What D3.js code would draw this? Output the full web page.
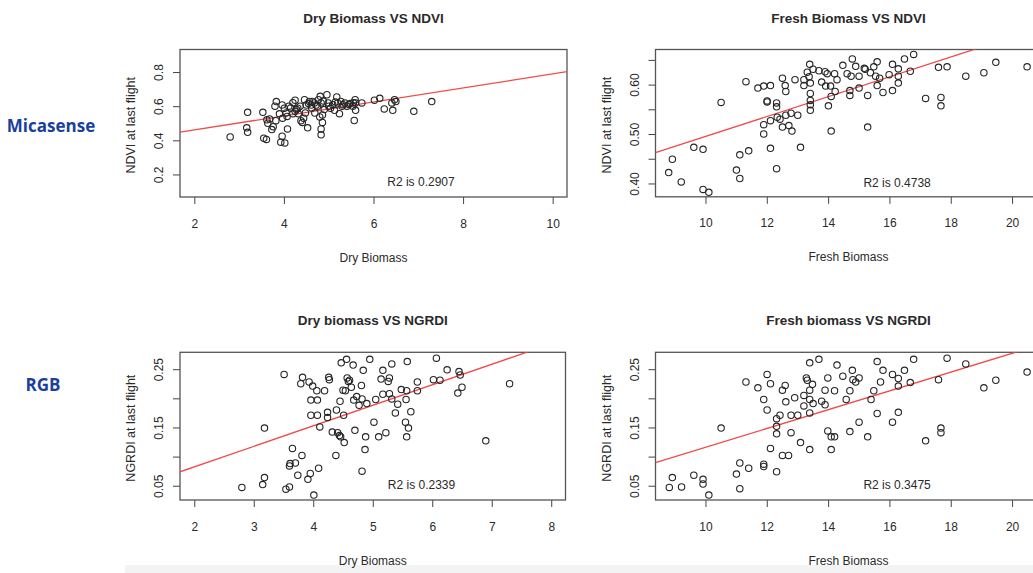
<!DOCTYPE html>
<html>
<head>
<meta charset="utf-8">
<script src="https://cdn.jsdelivr.net/npm/d3@7"></script>
<style>
  html, body { margin: 0; padding: 0; background: #fff; }
  svg { display: block; }
  text { font-family: "Liberation Sans", Arial, Helvetica, sans-serif; fill: #2a2a2a; }
</style>
</head>
<body>
<script>
// ---- Observations: [biomass, vegetation index at last flight] ----
const dryVsNdvi = [
  [2.80,0.420],[3.19,0.564],[3.17,0.473],[3.19,0.447],[3.53,0.564],[3.55,0.412],[3.61,0.405],
  [3.62,0.520],[3.64,0.500],[3.68,0.525],[3.73,0.463],[3.76,0.480],[3.80,0.600],[3.83,0.627],
  [3.82,0.515],[3.93,0.389],[3.96,0.424],[4.02,0.385],[3.96,0.607],[4.01,0.588],[3.97,0.530],
  [4.08,0.467],[4.07,0.540],[4.11,0.600],[4.20,0.620],[4.25,0.635],[4.28,0.580],[4.31,0.588],
  [4.20,0.556],[4.32,0.556],[4.38,0.515],[4.41,0.505],[4.44,0.530],[4.46,0.638],[4.50,0.607],
  [4.53,0.473],[4.57,0.628],[4.61,0.607],[4.64,0.628],[4.68,0.619],[4.72,0.607],[4.69,0.560],
  [4.77,0.638],[4.81,0.658],[4.83,0.619],[4.80,0.537],[4.83,0.467],[4.83,0.432],[4.86,0.505],
  [4.86,0.549],[4.90,0.580],[4.96,0.667],[4.99,0.619],[5.04,0.588],[5.09,0.609],[5.13,0.576],
  [5.18,0.654],[5.20,0.619],[5.24,0.556],[5.27,0.628],[5.32,0.609],[5.36,0.619],[5.41,0.600],
  [5.48,0.615],[5.54,0.600],[5.57,0.516],[5.59,0.638],[5.60,0.619],[5.60,0.576],[5.74,0.619],
  [6.02,0.635],[6.14,0.646],[6.24,0.584],[6.41,0.619],[6.43,0.576],[6.47,0.638],[6.50,0.627],
  [6.90,0.570],[7.30,0.627],
  [4.15,0.590],[4.36,0.600],[4.55,0.615],[4.62,0.590],[4.75,0.600],[4.88,0.630],[5.00,0.600],
  [5.15,0.625],[5.30,0.600],[5.45,0.610],[4.25,0.570],[4.48,0.560],[3.90,0.555],[4.05,0.560],
  [5.55,0.620]
];

const freshVsNdvi = [
  [8.80,0.422],[8.92,0.449],[9.21,0.403],[9.62,0.473],[9.92,0.469],[9.92,0.388],[10.11,0.382],
  [10.51,0.564],[11.01,0.427],[11.12,0.458],[11.12,0.410],[11.32,0.606],[11.41,0.466],[11.71,0.593],
  [11.90,0.597],[12.12,0.598],[11.90,0.519],[11.90,0.500],[12.01,0.567],[12.01,0.565],[12.12,0.527],
  [12.12,0.471],[12.32,0.563],[12.32,0.555],[12.34,0.534],[12.43,0.530],[12.32,0.430],[12.51,0.613],
  [12.60,0.598],[12.62,0.586],[12.51,0.514],[12.62,0.538],[12.72,0.517],[12.79,0.542],[12.82,0.506],
  [12.92,0.610],[13.01,0.538],[13.10,0.473],[13.21,0.610],[13.21,0.598],[13.32,0.625],[13.38,0.616],
  [13.40,0.641],[13.42,0.603],[13.42,0.582],[13.42,0.568],[13.42,0.559],[13.42,0.548],[13.51,0.631],
  [13.70,0.628],[13.79,0.605],[13.90,0.626],[13.97,0.622],[13.92,0.597],[14.01,0.557],[14.10,0.576],
  [14.10,0.506],[14.08,0.597],[14.21,0.622],[14.23,0.586],[14.29,0.610],[14.48,0.639],[14.62,0.622],
  [14.71,0.588],[14.71,0.578],[14.75,0.617],[14.79,0.652],[14.90,0.637],[15.01,0.593],[15.01,0.617],
  [15.18,0.633],[15.21,0.631],[15.29,0.578],[15.29,0.514],[15.38,0.624],[15.49,0.636],[15.55,0.617],
  [15.60,0.646],[15.60,0.598],[15.68,0.613],[15.79,0.584],[15.99,0.620],[16.10,0.641],[16.10,0.588],
  [16.29,0.632],[16.29,0.617],[16.29,0.603],[16.49,0.652],[16.68,0.627],[16.79,0.661],[17.18,0.572],
  [17.60,0.635],[17.68,0.574],[17.68,0.557],[17.88,0.636],[18.49,0.617],[19.08,0.624],[19.47,0.645],
  [20.49,0.636]
];

const dryVsNgrdi = [
  [2.80,0.047],[3.15,0.052],[3.18,0.064],[3.18,0.149],[3.51,0.241],[3.54,0.044],[3.60,0.048],
  [3.60,0.084],[3.61,0.088],[3.65,0.114],[3.70,0.089],[3.74,0.068],[3.79,0.225],[3.81,0.102],
  [3.82,0.236],[3.91,0.061],[3.93,0.228],[3.95,0.071],[3.96,0.197],[3.96,0.171],[3.99,0.221],
  [4.01,0.034],[4.06,0.213],[4.07,0.197],[4.07,0.171],[4.09,0.080],[4.11,0.151],[4.19,0.213],
  [4.24,0.176],[4.24,0.167],[4.26,0.236],[4.27,0.232],[4.32,0.142],[4.38,0.102],[4.39,0.180],
  [4.41,0.141],[4.44,0.136],[4.45,0.195],[4.46,0.134],[4.47,0.261],[4.50,0.214],[4.51,0.171],
  [4.52,0.124],[4.54,0.213],[4.56,0.267],[4.57,0.235],[4.59,0.229],[4.61,0.231],[4.64,0.219],
  [4.67,0.257],[4.68,0.197],[4.70,0.145],[4.73,0.203],[4.77,0.188],[4.81,0.222],[4.82,0.199],
  [4.82,0.075],[4.84,0.248],[4.87,0.112],[4.88,0.134],[4.90,0.191],[4.95,0.267],[5.02,0.159],
  [5.05,0.198],[5.10,0.134],[5.14,0.233],[5.17,0.248],[5.17,0.207],[5.22,0.141],[5.26,0.229],
  [5.28,0.235],[5.28,0.208],[5.32,0.259],[5.32,0.199],[5.38,0.175],[5.42,0.190],[5.48,0.215],
  [5.55,0.159],[5.56,0.198],[5.57,0.213],[5.58,0.263],[5.57,0.134],[5.60,0.149],[5.64,0.177],
  [5.75,0.228],[5.75,0.213],[6.02,0.232],[6.07,0.269],[6.13,0.231],[6.25,0.249],[6.43,0.209],
  [6.45,0.246],[6.47,0.240],[6.50,0.219],[6.90,0.127],[7.30,0.225]
];

const freshVsNgrdi = [
  [8.82,0.047],[8.92,0.064],[9.22,0.048],[9.62,0.068],[9.92,0.061],[9.92,0.053],[10.11,0.034],
  [10.51,0.149],[11.01,0.070],[11.12,0.089],[11.12,0.045],[11.32,0.228],[11.41,0.080],[11.71,0.218],
  [11.90,0.198],[11.90,0.087],[11.90,0.083],[12.01,0.241],[12.01,0.180],[12.12,0.225],[12.12,0.114],
  [12.32,0.165],[12.32,0.152],[12.32,0.139],[12.32,0.074],[12.43,0.171],[12.51,0.214],[12.51,0.102],
  [12.60,0.222],[12.62,0.194],[12.71,0.102],[12.79,0.171],[12.79,0.141],[12.91,0.201],[13.01,0.171],
  [13.10,0.124],[13.21,0.205],[13.21,0.187],[13.29,0.235],[13.32,0.231],[13.40,0.261],[13.40,0.214],
  [13.40,0.198],[13.40,0.175],[13.40,0.112],[13.49,0.224],[13.51,0.191],[13.70,0.267],[13.79,0.195],
  [13.90,0.189],[13.90,0.214],[13.99,0.144],[13.99,0.235],[14.10,0.134],[14.10,0.112],[14.21,0.213],
  [14.21,0.134],[14.29,0.257],[14.48,0.238],[14.59,0.198],[14.71,0.143],[14.71,0.213],[14.79,0.248],
  [14.81,0.232],[14.90,0.228],[15.01,0.159],[15.01,0.235],[15.29,0.134],[15.40,0.198],[15.49,0.213],
  [15.60,0.174],[15.60,0.263],[15.71,0.228],[15.79,0.248],[16.10,0.241],[16.10,0.159],[16.29,0.234],
  [16.29,0.221],[16.29,0.176],[16.49,0.248],[16.68,0.227],[16.79,0.267],[17.18,0.127],[17.60,0.232],
  [17.68,0.149],[17.68,0.141],[17.88,0.269],[18.49,0.259],[19.08,0.218],[19.47,0.231],[20.49,0.245]
];

// ---- Linear fits (index = intercept + slope * biomass) and R² ----
const fitIntercept = [0.379, 0.294, 0.012, -0.0457];
const fitSlope     = [0.041, 0.0201, 0.0352, 0.01615];
const rSquared     = ["0.2907", "0.4738", "0.2339", "0.3475"];

// ---- Text ----
const panelTitles = ["Dry Biomass VS NDVI", "Fresh Biomass VS NDVI", "Dry biomass VS NGRDI", "Fresh biomass VS NGRDI"];
const xAxisTitles = ["Dry Biomass", "Fresh Biomass", "Dry Biomass", "Fresh Biomass"];
const yAxisTitles = ["NDVI at last flight", "NDVI at last flight", "NGRDI at last flight", "NGRDI at last flight"];
const rowLabels   = ["Micasense", "RGB"];

// ---- Tick values ----
const dryTicksTop      = [2, 4, 6, 8, 10];
const dryTicksBottom   = [2, 3, 4, 5, 6, 7, 8];
const freshTicks       = [10, 12, 14, 16, 18, 20];
const ndviTicksDry     = [0.2, 0.4, 0.6, 0.8];
const ndviTicksFresh   = [0.40, 0.45, 0.50, 0.55, 0.60, 0.65];
const ndviLabelsFresh  = [0.40, 0.50, 0.60];
const ngrdiTicks       = [0.05, 0.10, 0.15, 0.20, 0.25];
const ngrdiLabels      = [0.05, 0.15, 0.25];

// ---- Panel layout ----
const panels = [
  { data: dryVsNdvi, left: 180, right: 567, top: 49.5, bottom: 197,
    xDomain: [1.68, 10.32], yDomain: [0.068, 0.932],
    xTicks: dryTicksTop, yTicks: ndviTicksDry, yLabels: ndviTicksDry, yFmt: d3.format(".1f"),
    r2At: [7.06, 0.156] },
  { data: freshVsNdvi, left: 655.5, right: 1041.5, top: 49.5, bottom: 196.8,
    xDomain: [8.37, 20.96], yDomain: [0.373, 0.671],
    xTicks: freshTicks, yTicks: ndviTicksFresh, yLabels: ndviLabelsFresh, yFmt: d3.format(".2f"),
    r2At: [16.25, 0.402] },
  { data: dryVsNgrdi, left: 180, right: 565.5, top: 352.3, bottom: 500,
    xDomain: [1.76, 8.24], yDomain: [0.0255, 0.279],
    xTicks: dryTicksBottom, yTicks: ngrdiTicks, yLabels: ngrdiLabels, yFmt: d3.format(".2f"),
    r2At: [5.82, 0.051] },
  { data: freshVsNgrdi, left: 655.5, right: 1041.5, top: 352.3, bottom: 500,
    xDomain: [8.37, 20.96], yDomain: [0.0255, 0.279],
    xTicks: freshTicks, yTicks: ngrdiTicks, yLabels: ngrdiLabels, yFmt: d3.format(".2f"),
    r2At: [16.25, 0.051] }
];

const W = 1033, H = 573;
const svg = d3.select("body").append("svg").attr("width", W).attr("height", H);

svg.append("rect").attr("width", W).attr("height", H).attr("fill", "#fff");
// faint strip along the lower edge
svg.append("rect").attr("x", 125).attr("y", 565).attr("width", W - 125).attr("height", H - 565).attr("fill", "#f3f3f3");

const defs = svg.append("defs");

panels.forEach((p, i) => {
  const x = d3.scaleLinear().domain(p.xDomain).range([p.left, p.right]);
  const y = d3.scaleLinear().domain(p.yDomain).range([p.bottom, p.top]);
  const g = svg.append("g");

  const clipId = "clip" + i;
  defs.append("clipPath").attr("id", clipId)
    .append("rect").attr("x", p.left).attr("y", p.top)
    .attr("width", p.right - p.left).attr("height", p.bottom - p.top);

  // x axis
  const xa = g.append("g").attr("transform", `translate(0,${p.bottom})`)
    .call(d3.axisBottom(x).tickValues(p.xTicks).tickSize(7).tickPadding(15).tickFormat(d3.format("d")));
  xa.select(".domain").remove();
  xa.selectAll(".tick line").attr("stroke", "#444").attr("stroke-width", 1);
  xa.selectAll(".tick text").attr("font-size", 12).attr("fill", "#2a2a2a")
    .style("font-family", "'Liberation Sans', Arial, sans-serif");

  // y axis with rotated labels
  const labelSet = new Set(p.yLabels.map(v => v.toFixed(3)));
  const ya = g.append("g").attr("transform", `translate(${p.left},0)`)
    .call(d3.axisLeft(y).tickValues(p.yTicks).tickSize(7)
      .tickFormat(d => labelSet.has(d.toFixed(3)) ? p.yFmt(d) : ""));
  ya.select(".domain").remove();
  ya.selectAll(".tick line").attr("stroke", "#444").attr("stroke-width", 1);
  ya.selectAll(".tick text")
    .attr("x", 0).attr("dy", "0.35em")
    .attr("text-anchor", "middle")
    .attr("transform", "translate(-21,0) rotate(-90)")
    .attr("font-size", 12).attr("fill", "#2a2a2a")
    .style("font-family", "'Liberation Sans', Arial, sans-serif");

  // plot frame
  g.append("rect").attr("x", p.left).attr("y", p.top)
    .attr("width", p.right - p.left).attr("height", p.bottom - p.top)
    .attr("fill", "none").attr("stroke", "#555").attr("stroke-width", 1.3);

  const inner = g.append("g").attr("clip-path", `url(#${clipId})`);

  // fitted line
  const a = fitIntercept[i], b = fitSlope[i];
  inner.append("line")
    .attr("x1", x(p.xDomain[0])).attr("y1", y(a + b * p.xDomain[0]))
    .attr("x2", x(p.xDomain[1])).attr("y2", y(a + b * p.xDomain[1]))
    .attr("stroke", "#f24a4a").attr("stroke-width", 1.3);

  // observations
  inner.selectAll("circle").data(p.data).join("circle")
    .attr("cx", d => x(d[0])).attr("cy", d => y(d[1])).attr("r", 3.2)
    .attr("fill", "none").attr("stroke", "#262626").attr("stroke-width", 1.1);

  // R² annotation
  g.append("text").attr("x", x(p.r2At[0])).attr("y", y(p.r2At[1])).attr("dy", "0.35em")
    .attr("text-anchor", "middle").attr("font-size", 12).text("R2 is " + rSquared[i]);

  // titles
  const cx = (p.left + p.right) / 2;
  g.append("text").attr("x", cx).attr("y", p.top - 27)
    .attr("text-anchor", "middle").attr("font-size", 13.5).attr("font-weight", "bold")
    .attr("fill", "#1e1e1e").text(panelTitles[i]);
  g.append("text").attr("x", cx).attr("y", p.bottom + 64.5)
    .attr("text-anchor", "middle").attr("font-size", 12).text(xAxisTitles[i]);
  g.append("text")
    .attr("transform", `translate(${p.left - 49},${(p.top + p.bottom) / 2 + 2}) rotate(-90)`)
    .attr("dy", "0.35em").attr("text-anchor", "middle").attr("font-size", 12.5)
    .text(yAxisTitles[i]);
});

// sensor row labels
const rowY = [126, 385];
const rowX = [51, 43];
rowLabels.forEach((t, k) => {
  svg.append("text").attr("x", rowX[k]).attr("y", rowY[k]).attr("dy", "0.35em")
    .attr("text-anchor", "middle").attr("font-size", 17).attr("font-weight", "bold")
    .style("font-family", "'Open Sans', 'Noto Sans', sans-serif")
    .style("fill", "#1a3f9e").text(t);
});
</script>
</body>
</html>
